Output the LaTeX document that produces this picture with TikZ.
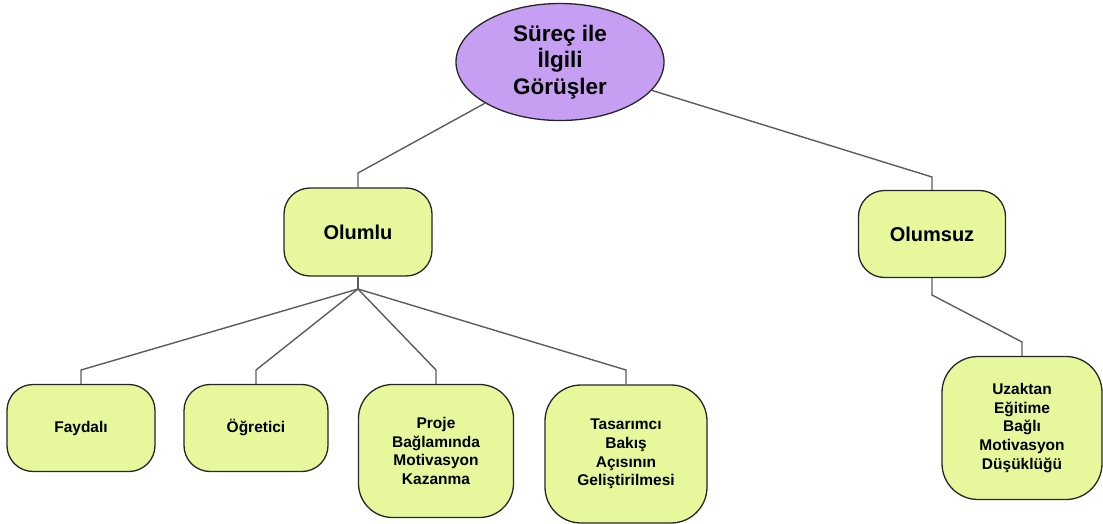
\documentclass[tikz,border=0pt]{standalone}
\usepackage{fontspec}
\setmainfont{Liberation Sans}
\usetikzlibrary{shapes.geometric}
\definecolor{purp}{HTML}{C69FF2}
\definecolor{lime}{HTML}{E6F79C}
\definecolor{edge}{HTML}{262626}
\definecolor{conn}{HTML}{5C5C5C}
\begin{document}
\begin{tikzpicture}[x=1pt,y=-1pt,
  rootnode/.style={ellipse,draw=edge,line width=1.3pt,fill=purp,inner sep=0pt,
    minimum width=208pt,minimum height=117pt,align=center,
    font=\fontsize{22.5}{26.5}\selectfont\bfseries},
  midbox/.style={rectangle,rounded corners=26pt,draw=edge,line width=1.3pt,fill=lime,
    inner sep=0pt,align=center,font=\fontsize{20}{24}\selectfont\bfseries},
  leafbox/.style={rectangle,draw=edge,line width=1.3pt,fill=lime,
    inner sep=0pt,align=center,font=\fontsize{15.5}{18.6}\selectfont\bfseries},
  conline/.style={draw=conn,line width=1.4pt}]
\useasboundingbox (0,0) rectangle (1103,524);
\node[rootnode] (root) at (560,62) {Süreç ile\\İlgili\\Görüşler};
\node[midbox,minimum width=148pt,minimum height=88pt] (olumlu) at (358,232) {Olumlu};
\node[midbox,minimum width=147pt,minimum height=87pt] (olumsuz) at (932,234) {Olumsuz};
\node[leafbox,rounded corners=26pt,minimum width=148pt,minimum height=87pt] (faydali) at (81,428) {Faydalı};
\node[leafbox,rounded corners=26pt,minimum width=144pt,minimum height=87pt] (ogretici) at (256,428) {Öğretici};
\node[leafbox,rounded corners=34pt,minimum width=155pt,minimum height=133pt] (proje) at (436,451) {Proje\\Bağlamında\\Motivasyon\\Kazanma};
\node[leafbox,rounded corners=36pt,minimum width=162pt,minimum height=138pt] (tasarimci) at (626,454) {Tasarımcı\\Bakış\\Açısının\\Geliştirilmesi};
\node[leafbox,rounded corners=36pt,minimum width=160pt,minimum height=143pt] (uzaktan) at (1022,428) {Uzaktan\\Eğitime\\Bağlı\\Motivasyon\\Düşüklüğü};
\coordinate (kl) at (358,173);
\coordinate (kr) at (932,177);
\coordinate (jn) at (358,289);
\coordinate (k1) at (81,370);
\coordinate (k2) at (256,370);
\coordinate (k3) at (436,370);
\coordinate (k4) at (626,370);
\coordinate (ka) at (932,295);
\coordinate (kb) at (1022,342);
\draw[conline] (root) -- (kl) -- (olumlu.north);
\draw[conline] (root) -- (kr) -- (olumsuz.north);
\draw[conline] (olumlu.south) -- (jn);
\draw[conline] (jn) -- (k1) -- (faydali.north);
\draw[conline] (jn) -- (k2) -- (ogretici.north);
\draw[conline] (jn) -- (k3) -- (proje.north);
\draw[conline] (jn) -- (k4) -- (tasarimci.north);
\draw[conline] (olumsuz.south) -- (ka) -- (kb) -- (uzaktan.north);
\end{tikzpicture}
\end{document}
